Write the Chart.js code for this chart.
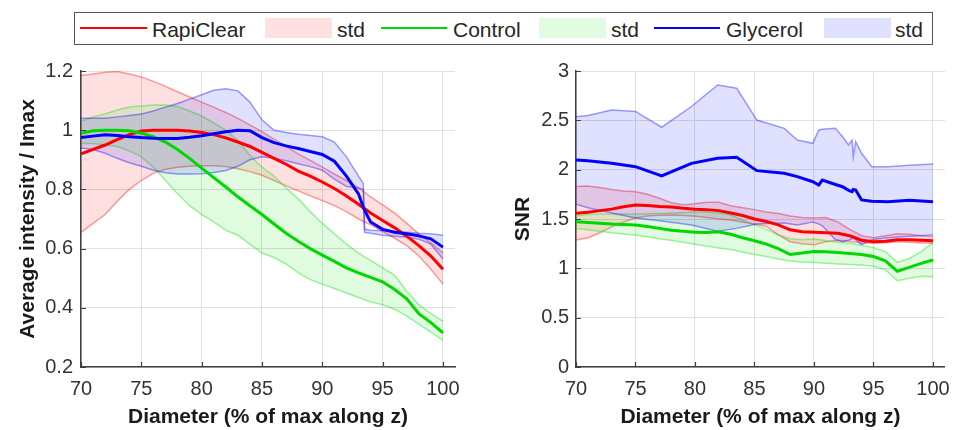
<!DOCTYPE html>
<html>
<head>
<meta charset="utf-8">
<script src="https://cdn.jsdelivr.net/npm/chart.js@4.4.1/dist/chart.umd.min.js"></script>
<style>
html,body{margin:0;padding:0;background:#fff;width:960px;height:430px;overflow:hidden;font-family:"Liberation Sans",Arial,sans-serif;}
canvas{position:absolute;top:0;}
#c1{left:0;}
#c2{left:480px;}
#legendBox{position:absolute;left:74px;top:12px;width:857px;height:31px;border:1.5px solid #555;background:#fff;}
.ln{position:absolute;height:2px;top:27px;}
.pt{position:absolute;top:18px;height:20px;}
.tx{position:absolute;top:19px;font-size:21px;line-height:21px;color:#262626;white-space:nowrap;}
</style>
</head>
<body>
<div id="legendBox"></div>
<div id="legendItems"></div>
<canvas id="c1" width="480" height="430"></canvas>
<canvas id="c2" width="480" height="430"></canvas>
<script>
// ---------- DATA ----------
const seriesNames = ['RapiClear', 'Control', 'Glycerol'];
const stdLabel = 'std';
const xTickVals = [70, 75, 80, 85, 90, 95, 100];
const yTickValsIntensity = [0.2, 0.4, 0.6, 0.8, 1.0, 1.2];
const yTickValsSNR = [0, 0.5, 1, 1.5, 2, 2.5, 3];

// Left: average intensity / Imax
const xIntensity = [70,71,72,73,74,75,76,77,78,79,80,81,82,83,84,85,86,87,88,89,90,91,92,93,94,95,96,97,98,99,100];
const rapiMeanI  = [0.92,0.935,0.95,0.968,0.985,0.997,1.0,1.0,1.0,0.997,0.992,0.985,0.974,0.96,0.945,0.925,0.905,0.885,0.862,0.845,0.825,0.803,0.778,0.75,0.72,0.695,0.67,0.642,0.61,0.575,0.53];
const rapiUpperI = [1.185,1.19,1.196,1.198,1.19,1.18,1.165,1.148,1.13,1.112,1.095,1.078,1.06,1.04,1.018,0.995,0.97,0.945,0.92,0.898,0.876,0.852,0.83,0.805,0.775,0.748,0.72,0.685,0.65,0.62,0.585];
const rapiLowerI = [0.655,0.685,0.715,0.76,0.80,0.83,0.855,0.868,0.875,0.878,0.88,0.88,0.877,0.87,0.86,0.848,0.83,0.812,0.795,0.778,0.762,0.745,0.725,0.70,0.68,0.658,0.635,0.61,0.575,0.53,0.48];
const ctrlMeanI  = [0.99,0.998,1.0,1.0,0.998,0.99,0.978,0.96,0.935,0.905,0.872,0.84,0.808,0.775,0.745,0.715,0.683,0.652,0.625,0.6,0.578,0.557,0.535,0.518,0.503,0.488,0.462,0.43,0.38,0.35,0.315];
const ctrlUpperI = [1.03,1.045,1.055,1.068,1.078,1.082,1.085,1.085,1.08,1.065,1.048,1.025,1.0,0.965,0.915,0.875,0.845,0.805,0.768,0.725,0.685,0.65,0.615,0.585,0.56,0.535,0.51,0.455,0.41,0.38,0.355];
const ctrlLowerI = [0.955,0.955,0.95,0.945,0.93,0.91,0.875,0.83,0.785,0.745,0.715,0.69,0.662,0.645,0.615,0.585,0.57,0.548,0.518,0.495,0.48,0.465,0.45,0.435,0.42,0.41,0.395,0.372,0.345,0.318,0.29];
const xGlyI      = [70,71,72,73,74,75,76,77,78,79,80,81,82,83,84,85,86,87,88,89,90,91,92,93,93.4,93.5,94,95,96,97,98,99,100];
const glyMeanI   = [0.975,0.98,0.985,0.982,0.978,0.975,0.973,0.972,0.972,0.976,0.981,0.988,0.995,1.0,0.998,0.975,0.958,0.947,0.938,0.928,0.918,0.895,0.845,0.785,0.74,0.73,0.69,0.665,0.655,0.65,0.643,0.633,0.605];
const glyUpperI  = [1.04,1.04,1.04,1.045,1.05,1.055,1.065,1.078,1.09,1.105,1.12,1.135,1.14,1.133,1.095,1.035,1.0,0.992,0.986,0.982,0.978,0.96,0.91,0.845,0.82,0.665,0.662,0.66,0.658,0.655,0.652,0.65,0.645];
const glyLowerI  = [0.94,0.935,0.922,0.905,0.89,0.878,0.865,0.856,0.852,0.852,0.853,0.857,0.864,0.878,0.9,0.91,0.905,0.897,0.887,0.877,0.865,0.835,0.81,0.805,0.80,0.655,0.652,0.645,0.642,0.638,0.632,0.615,0.565];

// Right: SNR
const xSNR       = [70,71,72,73,74,75,76,77,78,79,80,81,82,83,84,85,86,87,88,89,90,91,92,93,94,95,96,97,98,99,100];
const rapiMeanS  = [1.557,1.568,1.585,1.6,1.625,1.642,1.637,1.627,1.622,1.608,1.6,1.595,1.585,1.56,1.535,1.5,1.475,1.44,1.39,1.37,1.365,1.36,1.355,1.33,1.285,1.27,1.275,1.29,1.29,1.285,1.28];
const rapiUpperS = [1.83,1.835,1.82,1.8,1.785,1.775,1.75,1.71,1.665,1.645,1.655,1.67,1.67,1.635,1.615,1.595,1.57,1.555,1.53,1.515,1.51,1.515,1.47,1.395,1.33,1.31,1.33,1.35,1.345,1.33,1.32];
const rapiLowerS = [1.287,1.31,1.36,1.42,1.47,1.51,1.53,1.538,1.54,1.535,1.528,1.515,1.5,1.49,1.47,1.45,1.425,1.34,1.27,1.25,1.238,1.27,1.285,1.272,1.26,1.255,1.26,1.27,1.265,1.258,1.254];
const ctrlMeanS  = [1.473,1.465,1.458,1.45,1.445,1.44,1.425,1.405,1.387,1.375,1.365,1.362,1.37,1.345,1.31,1.28,1.245,1.2,1.14,1.155,1.17,1.168,1.16,1.15,1.14,1.12,1.075,0.97,1.01,1.05,1.085];
const ctrlUpperS = [1.53,1.545,1.55,1.55,1.55,1.55,1.552,1.555,1.56,1.565,1.57,1.572,1.56,1.54,1.49,1.44,1.395,1.34,1.3,1.29,1.3,1.28,1.265,1.255,1.235,1.21,1.17,1.06,1.1,1.17,1.26];
const ctrlLowerS = [1.405,1.39,1.375,1.36,1.348,1.338,1.32,1.3,1.285,1.265,1.245,1.225,1.205,1.19,1.165,1.14,1.12,1.095,1.075,1.065,1.058,1.052,1.045,1.04,1.035,1.02,0.985,0.875,0.9,0.92,0.915];
const xGlyS      = [70,71,73,75,77.2,79.7,81.9,83.5,85.2,87.5,88.6,89.9,90.4,90.7,91.8,92.4,92.9,93.2,93.3,93.5,94,94.85,96.2,98,100];
const glyUpperS  = [2.537,2.55,2.605,2.59,2.43,2.64,2.858,2.825,2.503,2.419,2.30,2.267,2.402,2.41,2.419,2.334,2.25,2.30,2.13,2.284,2.166,2.03,2.03,2.045,2.057];
const glyMeanS   = [2.098,2.09,2.064,2.03,1.936,2.064,2.115,2.125,1.99,1.963,1.93,1.878,1.845,1.895,1.85,1.827,1.79,1.777,1.80,1.794,1.693,1.68,1.676,1.69,1.676];
const glyLowerS  = [1.65,1.615,1.56,1.51,1.48,1.44,1.375,1.405,1.45,1.46,1.44,1.47,1.45,1.43,1.29,1.27,1.285,1.30,1.305,1.29,1.24,1.29,1.31,1.325,1.338];

// ---------- STYLE ----------
const FONT = "'Liberation Sans', Arial, sans-serif";
const RGB = {r: '255,0,0', g: '0,225,0', b: '0,0,255'};
const MEAN = {r: 'rgb(255,0,0)', g: 'rgb(0,215,0)', b: 'rgb(0,0,255)'};

function pts(xs, ys) { return xs.map((x, i) => ({x: x, y: ys[i]})); }
function band(xs, up, lo, rgb, ord, name) {
  return [
    {label: name + ' ' + stdLabel, data: pts(xs, up), borderColor: 'rgba(' + rgb + ',0.38)', borderWidth: 1.5,
     backgroundColor: 'rgba(' + rgb + ',0.12)', fill: '+1', pointRadius: 0, order: ord},
    {label: name + ' ' + stdLabel + ' lower', data: pts(xs, lo), borderColor: 'rgba(' + rgb + ',0.38)', borderWidth: 1.5,
     fill: false, pointRadius: 0, order: ord}
  ];
}
function meanLine(xs, ys, color, ord, name) {
  return {label: name, data: pts(xs, ys), borderColor: color, borderWidth: 3, fill: false, pointRadius: 0, order: ord};
}

const innerTicks = {
  id: 'innerTicks',
  afterDraw(chart) {
    const {ctx, chartArea, scales} = chart;
    ctx.save();
    ctx.strokeStyle = '#404040';
    ctx.lineWidth = 1.2;
    ctx.beginPath();
    scales.x.ticks.forEach(t => {
      const p = Math.round(scales.x.getPixelForValue(t.value)) + 0.5;
      ctx.moveTo(p, chartArea.bottom); ctx.lineTo(p, chartArea.bottom - 5);
    });
    scales.y.ticks.forEach(t => {
      const p = Math.round(scales.y.getPixelForValue(t.value)) + 0.5;
      ctx.moveTo(chartArea.left, p); ctx.lineTo(chartArea.left + 5, p);
    });
    ctx.stroke();
    ctx.restore();
  }
};

function fmt(v) { return String(+Number(v).toFixed(2)); }

function makeOptions(o) {
  return {
    responsive: false, animation: false, events: [],
    layout: {padding: {left: 0, top: 71, right: o.padRight, bottom: 0}},
    plugins: {legend: {display: false}, tooltip: {enabled: false}},
    elements: {line: {tension: 0}},
    scales: {
      x: {
        type: 'linear', min: 70, max: 101,
        afterBuildTicks: s => { s.ticks = xTickVals.map(v => ({value: v})); },
        afterFit: s => { s.height = 63; },
        grid: {color: '#e0e0e0', lineWidth: 1, drawTicks: false},
        border: {display: true, color: '#404040', width: 1.5},
        ticks: {padding: 10, color: '#333', font: {family: FONT, size: 20}, callback: v => fmt(v), maxRotation: 0},
        title: {display: true, text: 'Diameter (% of max along z)', color: '#1a1a1a',
                font: {family: FONT, size: 21, weight: 'bold'}, padding: {top: 0, bottom: 0}}
      },
      y: {
        type: 'linear', min: o.yMin, max: o.yMax,
        afterBuildTicks: s => { s.ticks = o.yTicks.map(v => ({value: v})); },
        afterFit: s => { s.width = o.yWidth; },
        grid: {color: '#e0e0e0', lineWidth: 1, drawTicks: false},
        border: {display: true, color: '#404040', width: 1.5},
        ticks: {padding: o.yPad, color: '#333', font: {family: FONT, size: 20}, callback: v => fmt(v)},
        title: {display: true, text: o.yTitle, color: '#1a1a1a',
                font: {family: FONT, size: 21, weight: 'bold'}, padding: {top: o.yTitlePad, bottom: 0}}
      }
    }
  };
}

new Chart(document.getElementById('c1'), {
  type: 'line',
  data: {datasets: [
    ...band(xIntensity, rapiUpperI, rapiLowerI, RGB.r, 10, seriesNames[0]),
    ...band(xIntensity, ctrlUpperI, ctrlLowerI, RGB.g, 9, seriesNames[1]),
    ...band(xGlyI, glyUpperI, glyLowerI, RGB.b, 8, seriesNames[2]),
    meanLine(xIntensity, rapiMeanI, MEAN.r, 3, seriesNames[0]),
    meanLine(xIntensity, ctrlMeanI, MEAN.g, 2, seriesNames[1]),
    meanLine(xGlyI, glyMeanI, MEAN.b, 1, seriesNames[2])
  ]},
  options: makeOptions({padRight: 25, yMin: 0.2, yMax: 1.2, yTicks: yTickValsIntensity, yWidth: 81, yPad: 8,
                        yTitle: 'Average intensity / Imax', yTitlePad: 16}),
  plugins: [innerTicks]
});

new Chart(document.getElementById('c2'), {
  type: 'line',
  data: {datasets: [
    ...band(xSNR, rapiUpperS, rapiLowerS, RGB.r, 10, seriesNames[0]),
    ...band(xSNR, ctrlUpperS, ctrlLowerS, RGB.g, 9, seriesNames[1]),
    ...band(xGlyS, glyUpperS, glyLowerS, RGB.b, 8, seriesNames[2]),
    meanLine(xSNR, rapiMeanS, MEAN.r, 3, seriesNames[0]),
    meanLine(xSNR, ctrlMeanS, MEAN.g, 2, seriesNames[1]),
    meanLine(xGlyS, glyMeanS, MEAN.b, 1, seriesNames[2])
  ]},
  options: makeOptions({padRight: 10, yMin: 0, yMax: 3, yTicks: yTickValsSNR, yWidth: 96, yPad: 7,
                        yTitle: 'SNR', yTitlePad: 31}),
  plugins: [innerTicks]
});

// ---------- LEGEND (HTML) ----------
const legendLayout = [
  {kind: 'line', left: 80, width: 67, color: MEAN.r},
  {kind: 'text', left: 152, text: seriesNames[0]},
  {kind: 'patch', left: 265, width: 67, color: 'rgba(' + RGB.r + ',0.12)'},
  {kind: 'text', left: 337, text: stdLabel},
  {kind: 'line', left: 381, width: 66, color: MEAN.g},
  {kind: 'text', left: 453, text: seriesNames[1]},
  {kind: 'patch', left: 539, width: 67, color: 'rgba(' + RGB.g + ',0.12)'},
  {kind: 'text', left: 611, text: stdLabel},
  {kind: 'line', left: 654, width: 66, color: MEAN.b},
  {kind: 'text', left: 726, text: seriesNames[2]},
  {kind: 'patch', left: 824, width: 67, color: 'rgba(' + RGB.b + ',0.12)'},
  {kind: 'text', left: 895, text: stdLabel}
];
const holder = document.getElementById('legendItems');
legendLayout.forEach(it => {
  const d = document.createElement('div');
  if (it.kind === 'text') { d.className = 'tx'; d.textContent = it.text; }
  else { d.className = it.kind === 'line' ? 'ln' : 'pt'; d.style.width = it.width + 'px'; d.style.background = it.color; }
  d.style.left = it.left + 'px';
  holder.appendChild(d);
});
</script>
</body>
</html>
